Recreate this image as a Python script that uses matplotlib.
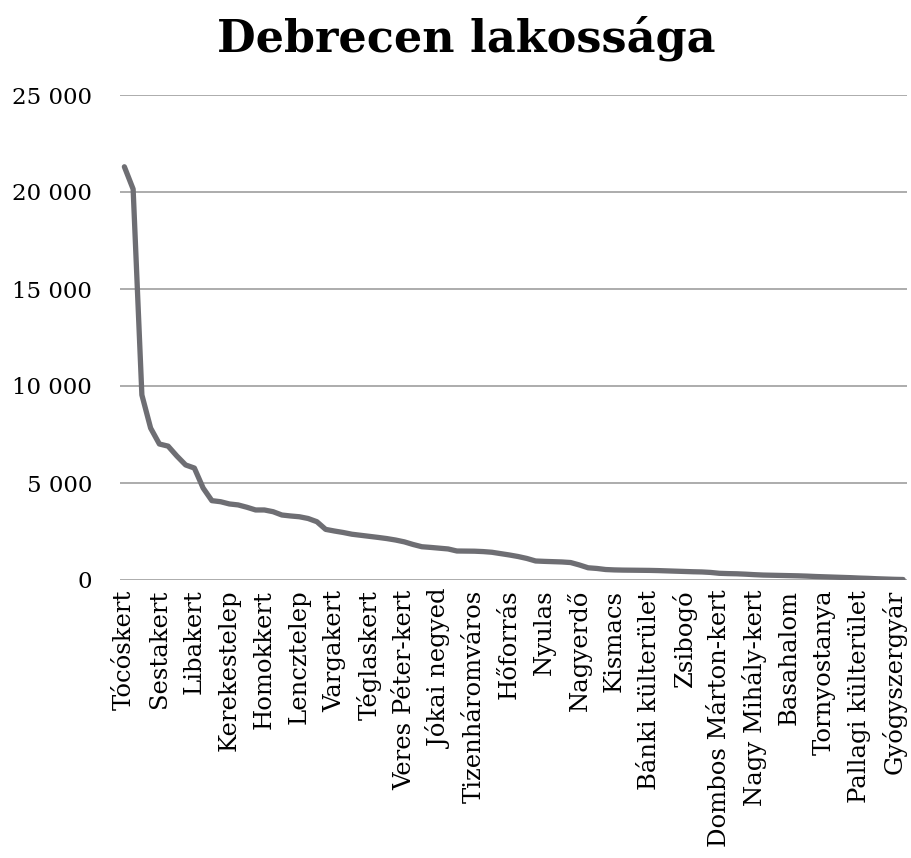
import matplotlib
matplotlib.use("Agg")
import matplotlib.pyplot as plt
import numpy as np

title = "Debrecen lakossága"

tick_labels = [
    "Tócóskert", "Sestakert", "Libakert", "Kerekestelep", "Homokkert",
    "Lencztelep", "Vargakert", "Téglaskert", "Veres Péter-kert", "Jókai negyed",
    "Tizenháromváros", "Hőforrás", "Nyulas", "Nagyerdő", "Kismacs",
    "Bánki külterület", "Zsibogó", "Dombos Márton-kert", "Nagy Mihály-kert",
    "Basahalom", "Tornyostanya", "Pallagi külterület", "Gyógyszergyár",
]

population = [
    21300, 20150, 9540, 7830, 7010, 6900, 6390, 5930, 5770, 4740,
    4090, 4035, 3920, 3870, 3750, 3610, 3610, 3520, 3350, 3300,
    3260, 3170, 3005, 2610, 2525, 2450, 2360, 2305, 2250, 2195,
    2135, 2060, 1965, 1830, 1715, 1680, 1640, 1600, 1495, 1490,
    1485, 1465, 1430, 1360, 1290, 1210, 1110, 980, 960, 945,
    930, 900, 775, 630, 595, 540, 520, 510, 505, 500,
    495, 485, 470, 455, 440, 425, 415, 390, 345, 330,
    320, 300, 275, 255, 245, 235, 225, 215, 200, 180,
    165, 150, 135, 120, 100, 85, 65, 50, 35, 25,
]

y_ticks = [0, 5000, 10000, 15000, 20000, 25000]
y_tick_labels = ["0", "5 000", "10 000", "15 000", "20 000", "25 000"]

label_font = "DejaVu Serif"

fig = plt.figure(figsize=(9.12, 8.58), dpi=100)
ax = fig.add_axes([120 / 912, 1 - 580 / 858, 787.5 / 912, 485 / 858])

x = np.arange(len(population))
ax.plot(x, population, color="#6e6e73", linewidth=3.8, solid_capstyle="round",
        solid_joinstyle="round", zorder=3)

ax.set_xlim(-0.5, len(population) - 0.5)
ax.set_ylim(0, 25000)

ax.set_yticks(y_ticks)
ax.set_yticklabels(y_tick_labels, family=label_font, fontsize=16.5)
ax.set_xticks(x[::4])
ax.set_xticklabels(tick_labels, rotation=90, family=label_font, fontsize=17.5,
                   ha="center", va="top")

ax.grid(axis="y", color="#a6a6a6", linewidth=1.3, zorder=1)
ax.tick_params(axis="y", length=0, pad=20)
ax.tick_params(axis="x", length=0, pad=7)
for side in ["top", "right", "left", "bottom"]:
    ax.spines[side].set_visible(False)

fig.text(466 / 912, 1 - 38 / 858, title, ha="center", va="center",
         fontsize=32, fontweight="bold", family="DejaVu Serif")

fig.savefig("out.png", dpi=100, facecolor="white")
